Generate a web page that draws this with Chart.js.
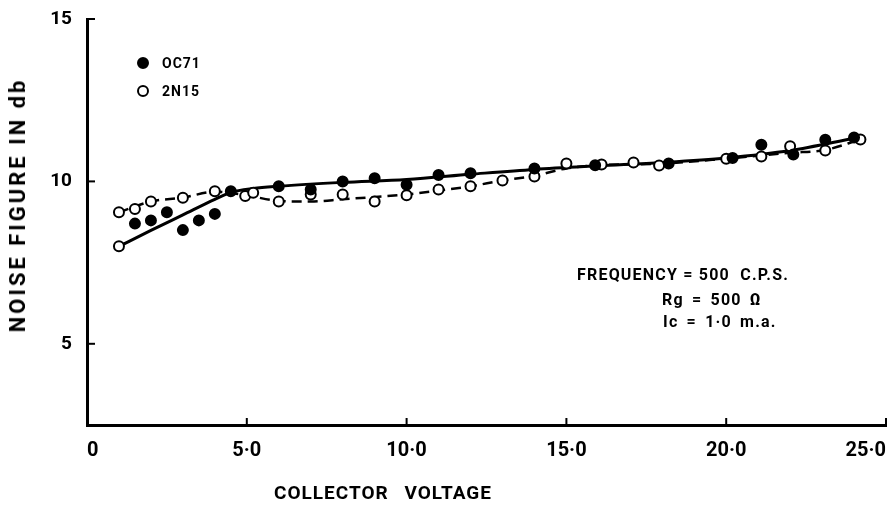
<!DOCTYPE html>
<html>
<head>
<meta charset="utf-8">
<script src="https://cdn.jsdelivr.net/npm/chart.js@4.4.0/dist/chart.umd.min.js"></script>
<style>
html,body{margin:0;padding:0;background:#fff;}
#wrap{position:relative;width:893px;height:509px;overflow:hidden;}
#c{position:absolute;left:0;top:0;}
.t{position:absolute;font-family:Roboto,'DejaVu Sans',sans-serif;font-weight:bold;color:#000;white-space:nowrap;line-height:1;}
.dot{position:absolute;width:12px;height:12px;border-radius:50%;box-sizing:border-box;border:2px solid #000;}
</style>
</head>
<body>
<div id="wrap">
  <canvas id="c" width="893" height="509"></canvas>

  <div class="t" style="left:18px;top:205px;font-size:22px;letter-spacing:3px;transform:translate(-50%,-50%) rotate(-90deg);">NOISE FIGURE IN db</div>
  <div class="t" style="left:383px;top:492px;font-size:19px;letter-spacing:1px;word-spacing:10px;transform:translate(-50%,-50%);">COLLECTOR VOLTAGE</div>

  <div class="dot" style="left:137px;top:57px;background:#000;"></div>
  <div class="t" style="left:162px;top:56px;font-size:14px;letter-spacing:1px;">OC71</div>
  <div class="dot" style="left:137px;top:85px;background:#fff;"></div>
  <div class="t" style="left:162px;top:84px;font-size:14px;letter-spacing:1px;">2N15</div>

  <div class="t" style="left:577px;top:267px;font-size:16px;letter-spacing:1.2px;">FREQUENCY = 500&nbsp; C.P.S.</div>
  <div class="t" style="left:662px;top:292px;font-size:16px;letter-spacing:1.2px;word-spacing:3px;">Rg = 500 Ω</div>
  <div class="t" style="left:663px;top:314px;font-size:16px;letter-spacing:1.2px;word-spacing:3px;">Ic = 1·0 m.a.</div>
</div>
<script>
// values (collector voltage in V, noise figure in db)
const oc71X = [1.0, 1.5, 2.0, 2.5, 3.0, 3.5, 4.0, 4.5, 6.0, 7.0, 8.0, 9.0, 10.0, 11.0, 12.0, 14.0, 15.9, 18.2, 20.2, 21.1, 22.1, 23.1, 24.0];
const oc71Y = [8.0, 8.7, 8.8, 9.05, 8.5, 8.8, 9.0, 9.7, 9.85, 9.75, 10.0, 10.1, 9.9, 10.2, 10.25, 10.4, 10.5, 10.55, 10.72, 11.13, 10.83, 11.28, 11.35];

const n15X = [1.0, 1.5, 2.0, 3.0, 4.0, 4.95, 5.2, 6.0, 7.0, 8.0, 9.0, 10.0, 11.0, 12.0, 13.0, 14.0, 15.0, 16.1, 17.1, 17.9, 20.0, 21.1, 22.0, 23.1, 24.2];
const n15Y = [9.05, 9.15, 9.38, 9.5, 9.7, 9.55, 9.65, 9.38, 9.6, 9.6, 9.38, 9.57, 9.75, 9.85, 10.03, 10.15, 10.55, 10.52, 10.58, 10.49, 10.7, 10.77, 11.08, 10.95, 11.29];

// hand drawn curves through the points
const oc71CurveX = [1.0, 2.0, 3.0, 4.0, 4.5, 5.2, 6.0, 8.0, 10.0, 12.0, 14.0, 16.0, 18.0, 20.0, 22.0, 24.0];
const oc71CurveY = [8.0, 8.49, 8.97, 9.45, 9.66, 9.78, 9.85, 9.97, 10.06, 10.22, 10.37, 10.48, 10.58, 10.72, 10.95, 11.33];
const n15CurveX = [1.0, 2.0, 3.0, 4.0, 5.0, 6.0, 7.0, 8.0, 10.0, 11.0, 12.0, 13.0, 14.0, 15.0, 16.0, 18.0, 20.0, 22.0, 23.1, 24.2];
const n15CurveY = [9.05, 9.38, 9.5, 9.68, 9.57, 9.4, 9.38, 9.45, 9.6, 9.72, 9.85, 10.03, 10.17, 10.4, 10.5, 10.55, 10.7, 10.88, 10.97, 11.29];

const xTickValues = [0, 5, 10, 15, 20, 25];
const xTickLabels = ['0', '5·0', '10·0', '15·0', '20·0', '25·0'];
const yTickValues = [5, 10, 15];
const yTickLabels = ['5', '10', '15'];

const pts = (xs, ys) => xs.map((x, i) => ({x: x, y: ys[i]}));

const innerTicks = {
  id: 'innerTicks',
  afterDatasetsDraw(chart) {
    const {ctx, chartArea: a} = chart;
    const x = chart.scales.x, y = chart.scales.y;
    ctx.save();
    ctx.strokeStyle = '#000';
    ctx.lineWidth = 2;
    xTickValues.forEach(v => {
      if (v === 0) return;
      const px = x.getPixelForValue(v);
      ctx.beginPath(); ctx.moveTo(px, a.bottom); ctx.lineTo(px, a.bottom - 7); ctx.stroke();
    });
    yTickValues.forEach(v => {
      const py = y.getPixelForValue(v);
      ctx.beginPath(); ctx.moveTo(a.left, py); ctx.lineTo(a.left + 8, py); ctx.stroke();
    });
    ctx.restore();
  }
};

const ctx = document.getElementById('c').getContext('2d');
new Chart(ctx, {
  type: 'scatter',
  data: {
    datasets: [
      {
        label: 'OC71',
        data: pts(oc71X, oc71Y),
        showLine: false,
        pointRadius: 5,
        pointBackgroundColor: oc71X.map((_, i) => i === 0 ? '#fff' : '#000'),
        pointBorderColor: '#000',
        pointBorderWidth: 2,
        order: 0
      },
      {
        label: '2N15',
        data: pts(n15X, n15Y),
        showLine: false,
        pointRadius: 5,
        pointBackgroundColor: '#fff',
        pointBorderColor: '#000',
        pointBorderWidth: 2,
        order: 0
      },
      {
        label: 'OC71 curve',
        data: pts(oc71CurveX, oc71CurveY),
        showLine: true,
        pointRadius: 0,
        borderColor: '#000',
        borderWidth: 3,
        cubicInterpolationMode: 'monotone',
        order: 1
      },
      {
        label: '2N15 curve',
        data: pts(n15CurveX, n15CurveY),
        showLine: true,
        pointRadius: 0,
        borderColor: '#000',
        borderWidth: 2.5,
        borderDash: [10, 6],
        cubicInterpolationMode: 'monotone',
        order: 1
      }
    ]
  },
  options: {
    responsive: false,
    devicePixelRatio: 1,
    animation: false,
    layout: {padding: {left: 0, right: 0, top: 19, bottom: 0}},
    plugins: {legend: {display: false}, tooltip: {enabled: false}},
    scales: {
      x: {
        type: 'linear',
        min: 0,
        max: 25,
        afterBuildTicks: s => { s.ticks = xTickValues.map(v => ({value: v})); },
        afterFit: s => { s.height = 84; },
        grid: {display: false},
        border: {display: true, color: '#000', width: 3},
        ticks: {
          align: 'inner',
          padding: 6,
          color: '#000',
          font: {family: 'Roboto', weight: 'bold', size: 20},
          callback: v => xTickLabels[xTickValues.indexOf(v)]
        }
      },
      y: {
        type: 'linear',
        min: 2.5,
        max: 15,
        afterBuildTicks: s => { s.ticks = yTickValues.map(v => ({value: v})); },
        afterFit: s => { s.width = 87; },
        grid: {display: false},
        border: {display: true, color: '#000', width: 3},
        ticks: {
          padding: 7,
          color: '#000',
          font: {family: 'Roboto', weight: 'bold', size: 19},
          callback: v => yTickLabels[yTickValues.indexOf(v)]
        }
      }
    }
  },
  plugins: [innerTicks]
});
</script>
</body>
</html>
